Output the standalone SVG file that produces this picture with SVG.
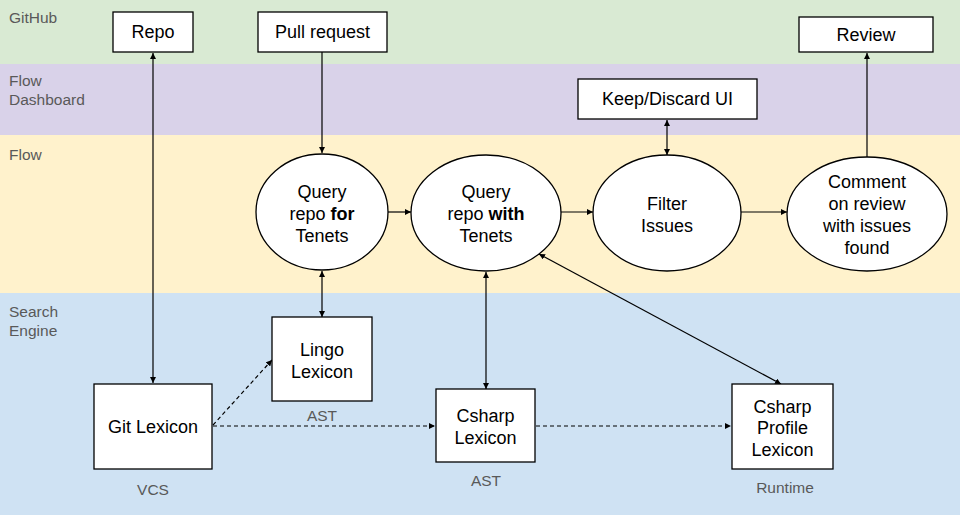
<svg xmlns="http://www.w3.org/2000/svg" width="960" height="515" viewBox="0 0 960 515">
<style>
.band{font-family:"Liberation Sans",Arial,sans-serif;font-size:15.5px;fill:#595959}
.sub{font-family:"Liberation Sans",Arial,sans-serif;font-size:15.5px;fill:#595959;text-anchor:middle}
.box{fill:#fff;stroke:#000;stroke-width:1.3}
.t{font-family:"Liberation Sans",Arial,sans-serif;font-size:18px;fill:#000;text-anchor:middle}
.c{stroke:#000;stroke-width:1.2;fill:none}
.d{stroke:#000;stroke-width:1.2;fill:none;stroke-dasharray:4,3}
</style>
<defs>
<marker id="ah" viewBox="0 0 8 8" refX="8" refY="4" markerWidth="6" markerHeight="6" markerUnits="userSpaceOnUse" orient="auto-start-reverse">
<path d="M0,0 L8,4 L0,8 z" fill="#000"/>
</marker>
</defs>
<g id="bands">
<rect x="0" y="0" width="960" height="64" fill="#d9ead3"/>
<rect x="0" y="64" width="960" height="71" fill="#d9d2e9"/>
<rect x="0" y="135" width="960" height="158" fill="#fff2cc"/>
<rect x="0" y="293" width="960" height="222" fill="#cfe2f3"/>
<text class="band" x="9" y="23">GitHub</text>
<text class="band" x="9" y="86">Flow</text>
<text class="band" x="9" y="105">Dashboard</text>
<text class="band" x="9" y="160">Flow</text>
<text class="band" x="9" y="317">Search</text>
<text class="band" x="9" y="336">Engine</text>
</g>
<g id="connectors">
<line class="c" x1="153" y1="53" x2="153" y2="383" marker-start="url(#ah)" marker-end="url(#ah)"/>
<line class="c" x1="322" y1="52" x2="322" y2="153" marker-end="url(#ah)"/>
<line class="c" x1="388" y1="212" x2="411" y2="212" marker-end="url(#ah)"/>
<line class="c" x1="560" y1="212" x2="593" y2="212" marker-end="url(#ah)"/>
<line class="c" x1="741" y1="212" x2="787" y2="212" marker-end="url(#ah)"/>
<line class="c" x1="667" y1="120" x2="667" y2="155" marker-start="url(#ah)" marker-end="url(#ah)"/>
<line class="c" x1="867" y1="157" x2="867" y2="53" marker-end="url(#ah)"/>
<line class="c" x1="322" y1="271" x2="322" y2="317" marker-start="url(#ah)" marker-end="url(#ah)"/>
<line class="c" x1="486" y1="272" x2="486" y2="389" marker-start="url(#ah)" marker-end="url(#ah)"/>
<line class="c" x1="539" y1="254" x2="781" y2="384" marker-start="url(#ah)" marker-end="url(#ah)"/>
<line class="d" x1="213" y1="425" x2="272" y2="360" marker-end="url(#ah)"/>
<line class="d" x1="213" y1="426" x2="435" y2="426" marker-end="url(#ah)"/>
<line class="d" x1="536" y1="426" x2="731" y2="426" marker-end="url(#ah)"/>
</g>
<g id="repo"><rect class="box" x="113" y="12" width="80" height="40"/><text class="t" x="153" y="38">Repo</text></g>
<g id="pull-request"><rect class="box" x="258" y="12" width="129" height="40"/><text class="t" x="322.5" y="38">Pull request</text></g>
<g id="review"><rect class="box" x="799" y="17" width="134" height="35"/><text class="t" x="866" y="41">Review</text></g>
<g id="keep-discard"><rect class="box" x="578" y="79" width="179" height="40"/><text class="t" x="667.5" y="105">Keep/Discard UI</text></g>
<g id="query-for"><ellipse class="box" cx="322" cy="212" rx="66" ry="58"/>
<text class="t" x="322" y="198">Query</text>
<text class="t" x="322" y="220">repo <tspan font-weight="bold">for</tspan></text>
<text class="t" x="322" y="242">Tenets</text></g>
<g id="query-with"><ellipse class="box" cx="486" cy="213" rx="75" ry="58"/>
<text class="t" x="486" y="198">Query</text>
<text class="t" x="486" y="220">repo <tspan font-weight="bold">with</tspan></text>
<text class="t" x="486" y="242">Tenets</text></g>
<g id="filter-issues"><ellipse class="box" cx="667" cy="213" rx="74" ry="58"/>
<text class="t" x="667" y="210">Filter</text>
<text class="t" x="667" y="232">Issues</text></g>
<g id="comment"><ellipse class="box" cx="867" cy="214" rx="80" ry="57"/>
<text class="t" x="867" y="188">Comment</text>
<text class="t" x="867" y="210">on review</text>
<text class="t" x="867" y="232">with issues</text>
<text class="t" x="867" y="254">found</text></g>
<g id="git-lexicon"><rect class="box" x="94" y="384" width="118" height="85"/><text class="t" x="153" y="433">Git Lexicon</text>
<text class="sub" x="153" y="495">VCS</text></g>
<g id="lingo-lexicon"><rect class="box" x="272" y="317" width="100" height="84"/>
<text class="t" x="322" y="356">Lingo</text><text class="t" x="322" y="378">Lexicon</text>
<text class="sub" x="322" y="421">AST</text></g>
<g id="csharp-lexicon"><rect class="box" x="436" y="389" width="99" height="73"/>
<text class="t" x="485.5" y="422">Csharp</text><text class="t" x="485.5" y="444">Lexicon</text>
<text class="sub" x="486" y="486">AST</text></g>
<g id="csharp-profile"><rect class="box" x="732" y="384" width="101" height="85"/>
<text class="t" x="782.5" y="413">Csharp</text><text class="t" x="782.5" y="434">Profile</text><text class="t" x="782.5" y="456">Lexicon</text>
<text class="sub" x="785" y="493">Runtime</text></g>
</svg>
